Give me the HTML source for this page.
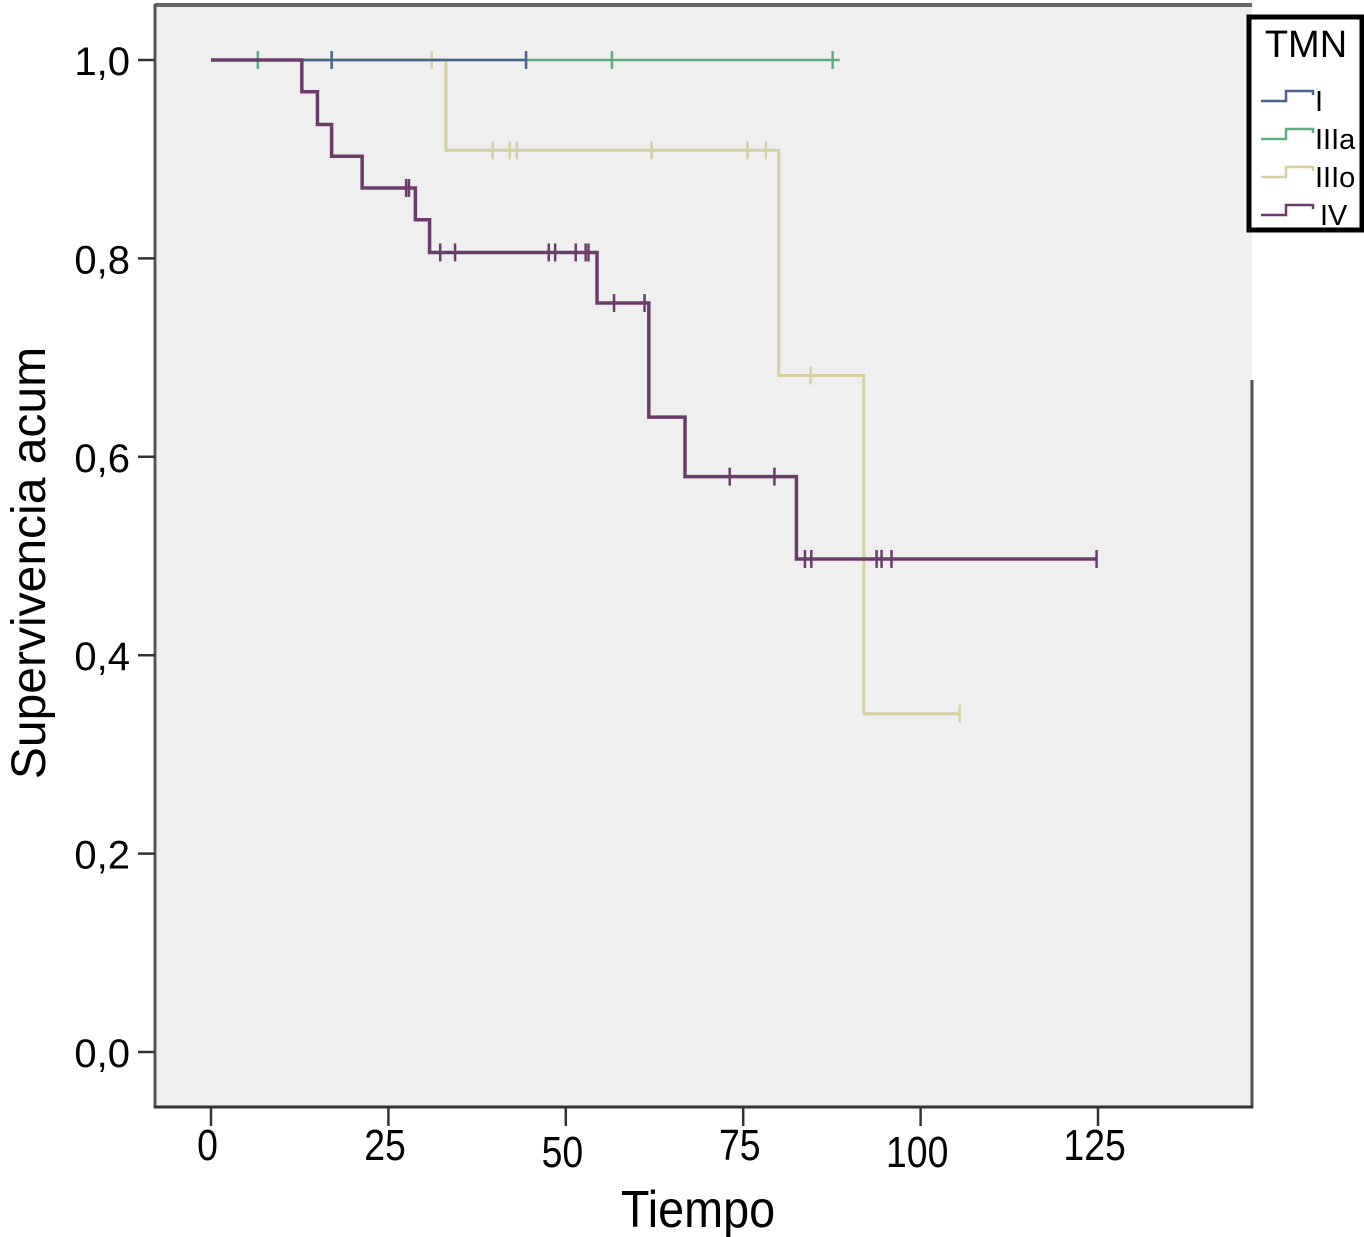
<!DOCTYPE html>
<html><head><meta charset="utf-8"><style>
html,body{margin:0;padding:0;background:#fff;}
svg{display:block;font-family:"Liberation Sans",sans-serif;}
</style></head><body>
<svg id="chart" width="1364" height="1237" viewBox="0 0 1364 1237" xmlns="http://www.w3.org/2000/svg">
<rect x="156" y="5" width="1096" height="1102" fill="#efefef"/>
<line x1="155" y1="5" x2="1252" y2="5" stroke="#666" stroke-width="4"/>
<line x1="1252" y1="380" x2="1252" y2="1108" stroke="#555" stroke-width="3"/>
<line x1="155" y1="4" x2="155" y2="1108" stroke="#555" stroke-width="3"/>
<line x1="154" y1="1107" x2="1253" y2="1107" stroke="#333" stroke-width="3"/>
<g id="axes"></g>
<g id="series"></g>
<text transform="translate(45,563) rotate(-90)" text-anchor="middle" font-size="48">Supervivencia acum</text>
<text x="698" y="1227" text-anchor="middle" font-size="52" transform="translate(698,0) scale(0.9,1) translate(-698,0)">Tiempo</text>
<g>
<rect x="1249" y="17" width="113" height="213" fill="#fff" stroke="#000" stroke-width="5"/>
<text x="1306" y="57" text-anchor="middle" font-size="38">TMN</text>
<g id="legend-items"></g>
</g>
</svg>
<script>
const xTicks = [0, 25, 50, 75, 100, 125];
const yTicks = [0, 0.2, 0.4, 0.6, 0.8, 1.0];
const yTickLabels = ["0,0", "0,2", "0,4", "0,6", "0,8", "1,0"];
const seriesNames = ["I", "IIIa", "IIIo", "IV"];
const seriesColors = ["#4c6390", "#5cae7c", "#d6d0a2", "#6b3c6b"];
const seriesWidths = [2.5, 2.5, 3, 3.5];
const iTimes = [0, 44.4];
const iSurv = [1.0, 1.0];
const iCens = [17, 44.4];
const iiiaTimes = [0, 88.6];
const iiiaSurv = [1.0, 1.0];
const iiiaCens = [6.6, 56.5, 87.6];
const iiioTimes = [0, 33.1, 80.0, 92.0, 105.5];
const iiioSurv = [1.0, 0.909, 0.682, 0.341, 0.341];
const iiioCens = [31.1, 39.7, 42.1, 43.1, 62.1, 75.6, 78.2, 84.5, 105.5];
const ivTimes = [0, 12.8, 15.0, 17.0, 21.3, 28.8, 30.8, 54.4, 61.7, 66.8, 82.5, 124.8];
const ivSurv = [1.0, 0.968, 0.935, 0.903, 0.871, 0.839, 0.806, 0.755, 0.64, 0.58, 0.497, 0.497];
const ivCens = [27.5, 27.9, 32.3, 34.4, 47.6, 48.5, 51.4, 52.8, 53.2, 56.8, 61.1, 73.1, 79.4, 83.7, 84.6, 93.8, 94.5, 95.9, 124.8];

const NS = "http://www.w3.org/2000/svg";
const xS = t => 211 + t * 7.096;
const yS = v => 1052 - v * 992;
function mk(tag, attrs, parent){const e=document.createElementNS(NS,tag);for(const k in attrs)e.setAttribute(k,attrs[k]);parent.appendChild(e);return e;}
const axes = document.getElementById('axes');
xTicks.forEach((t,i)=>{
  const l = mk('line',{x1:xS(t),y1:1107,x2:xS(t),y2:1126,stroke:'#333','stroke-width':2.5},axes);
  
  
  const dy = (t===50||t===100)?1167:1160;
  const tx = mk('text',{x:xS(t)-4,y:dy,'text-anchor':'middle','font-size':44,transform:`translate(${xS(t)},0) scale(0.85,1) translate(${-xS(t)},0)`},axes);
  tx.textContent = String(t);
  
  
});
yTicks.forEach((v,i)=>{
  const l = mk('line',{x1:138,y1:yS(v),x2:155,y2:yS(v),stroke:'#333','stroke-width':2.5},axes);
  
  
  const tx = mk('text',{x:130,y:yS(v)+15,'text-anchor':'end','font-size':40},axes);
  tx.textContent = yTickLabels[i];
  
  
});
const data = [[iTimes,iSurv,iCens],[iiiaTimes,iiiaSurv,iiiaCens],[iiioTimes,iiioSurv,iiioCens],[ivTimes,ivSurv,ivCens]];
const sg = document.getElementById('series');
function survAt(times,surv,t){let s=surv[0];for(let i=0;i<times.length;i++){if(times[i]<=t+1e-9)s=surv[i];}return s;}
[2,1,0,3].forEach(k=>{
  const [tm,sv,cs] = data[k];
  let d = `M${xS(tm[0])},${yS(sv[0])}`;
  for(let i=1;i<tm.length;i++){d+=` H${xS(tm[i])} V${yS(sv[i])}`;}
  const p = mk('path',{d:d,fill:'none',stroke:seriesColors[k],'stroke-width':seriesWidths[k]},sg);
  
  
  cs.forEach(c=>{
    const y = yS(survAt(tm,sv,c));
    const m = mk('line',{x1:xS(c),y1:y-9,x2:xS(c),y2:y+9,stroke:seriesColors[k],'stroke-width':2.5},sg);
    
    
  });
});
const lg = document.getElementById('legend-items');
seriesNames.forEach((n,i)=>{
  const y = 101 + i*38;
  const p = mk('path',{d:`M1261,${y} H1286 V${y-10} H1313 V${y-6}`,fill:'none',stroke:seriesColors[i],'stroke-width':2.5},lg);
  
  
  const t = mk('text',{x:n==='IV'?1320:1315,y:y+10,'font-size':29},lg);
  t.textContent = n;
  
  
});
</script>
</body></html>
